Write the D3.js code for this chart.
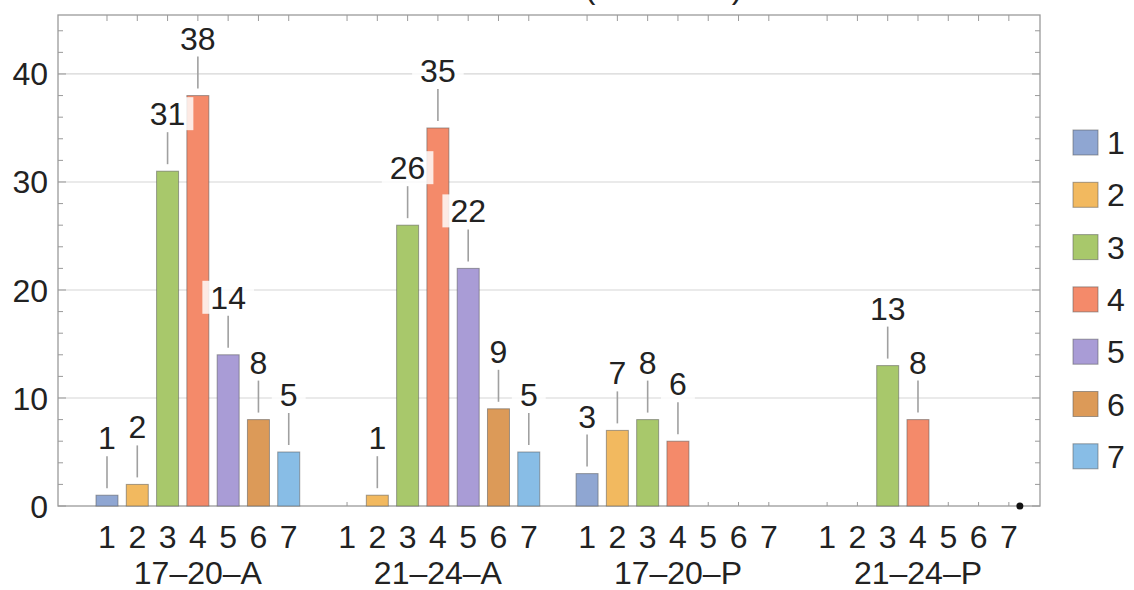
<!DOCTYPE html>
<html>
<head>
<meta charset="utf-8">
<script src="https://cdn.jsdelivr.net/npm/d3@7"></script>
<style>
  html, body { margin: 0; padding: 0; background: #fff; }
  svg { display: block; font-family: "Liberation Sans", Arial, sans-serif; }
</style>
</head>
<body>
<svg id="chart" width="1134" height="590"></svg>
<script>
// ---- data ----
const groups = ["17\u201320\u2013A", "21\u201324\u2013A", "17\u201320\u2013P", "21\u201324\u2013P"];
const categories = ["1", "2", "3", "4", "5", "6", "7"];
const values_17_20_A = [1, 2, 31, 38, 14, 8, 5];
const values_21_24_A = [0, 1, 26, 35, 22, 9, 5];
const values_17_20_P = [3, 7, 8, 6, 0, 0, 0];
const values_21_24_P = [0, 0, 13, 8, 0, 0, 0];
const yTicks = [0, 10, 20, 30, 40];
const colors = ["#8fa6d2", "#f2b95f", "#a8c86b", "#f48a6a", "#a99cd6", "#dc9a58", "#88bde6"];

const seriesByGroup = [values_17_20_A, values_21_24_A, values_17_20_P, values_21_24_P];
const rows = [];
groups.forEach((g, gi) => categories.forEach((c, ci) => rows.push({ group: g, cat: c, ci, value: seriesByGroup[gi][ci] })));

// ---- layout ----
const svg = d3.select("#chart");
const frame = { left: 58, right: 1040, top: 15, bottom: 506 };

const y = d3.scaleLinear().domain([0, 45.46]).range([frame.bottom, frame.top]);
const xOuter = d3.scaleBand().domain(groups).range([91.85, 1024]).paddingInner(0.1167).paddingOuter(0);
const xInner = d3.scaleBand().domain(categories).range([0, xOuter.bandwidth()]).paddingInner(0.274).paddingOuter(0.137);
const color = d3.scaleOrdinal().domain(categories).range(colors);
const cx = d => xOuter(d.group) + xInner(d.cat) + xInner.bandwidth() / 2;

const FS = 32;

// gridlines
svg.append("g").selectAll("line").data(yTicks.filter(t => t > 0)).join("line")
  .attr("x1", frame.left).attr("x2", frame.right)
  .attr("y1", d => y(d)).attr("y2", d => y(d))
  .attr("stroke", "#d6d6d6").attr("stroke-width", 1.2);

// frame
svg.append("rect")
  .attr("x", frame.left).attr("y", frame.top)
  .attr("width", frame.right - frame.left).attr("height", frame.bottom - frame.top)
  .attr("fill", "none").attr("stroke", "#9a9a9a").attr("stroke-width", 1.3);

// y ticks (left inward, right inward)
const minor = d3.range(0, 46, 2);
const tickG = svg.append("g").attr("stroke", "#9a9a9a").attr("stroke-width", 1);
tickG.selectAll(".yl").data(minor).join("line")
  .attr("x1", frame.left).attr("x2", d => frame.left + (d % 10 === 0 ? 8 : 5))
  .attr("y1", d => y(d)).attr("y2", d => y(d));
tickG.selectAll(".yr").data(minor).join("line")
  .attr("x1", frame.right).attr("x2", d => frame.right - (d % 10 === 0 ? 8 : 5))
  .attr("y1", d => y(d)).attr("y2", d => y(d));
// x ticks at bar centers (bottom & top)
tickG.selectAll(".xb").data(rows).join("line")
  .attr("x1", cx).attr("x2", cx)
  .attr("y1", frame.bottom).attr("y2", frame.bottom - 4);
tickG.selectAll(".xt").data(rows).join("line")
  .attr("x1", cx).attr("x2", cx)
  .attr("y1", frame.top).attr("y2", frame.top + 6);

// y tick labels
svg.append("g").selectAll("text").data(yTicks).join("text")
  .attr("x", 48).attr("y", d => y(d)).attr("dy", "0.36em")
  .attr("text-anchor", "end").attr("font-size", FS).attr("fill", "#222")
  .text(d => d);

// bars
svg.append("g").selectAll("rect").data(rows).join("rect")
  .attr("x", d => xOuter(d.group) + xInner(d.cat))
  .attr("width", xInner.bandwidth())
  .attr("y", d => y(d.value))
  .attr("height", d => y(0) - y(d.value))
  .attr("fill", d => color(d.cat))
  .attr("stroke", "#5a5a5a").attr("stroke-opacity", 0.55).attr("stroke-width", 1);

// callouts
const labeled = rows.filter(d => d.value > 0);
const lab = svg.append("g");
labeled.forEach(d => {
  const top = y(d.value);
  const x = cx(d);
  const txt = String(d.value);
  const w = txt.length * FS * 0.556;
  lab.append("rect")
    .attr("x", x - w / 2 - 8).attr("y", top - 46 - 28)
    .attr("width", w + 16).attr("height", 33)
    .attr("fill", "#fff").attr("fill-opacity", 0.82);
  lab.append("line")
    .attr("x1", x).attr("x2", x)
    .attr("y1", top - 7).attr("y2", top - 39)
    .attr("stroke", "#a0a0a0").attr("stroke-width", 1.6);
  lab.append("text")
    .attr("x", x).attr("y", top - 46)
    .attr("text-anchor", "middle").attr("font-size", FS).attr("fill", "#222")
    .text(txt);
});

// x category labels
svg.append("g").selectAll("text").data(rows).join("text")
  .attr("x", cx).attr("y", 548)
  .attr("text-anchor", "middle").attr("font-size", FS).attr("fill", "#222")
  .text(d => d.cat);

// group labels
svg.append("g").selectAll("text").data(groups).join("text")
  .attr("x", d => xOuter(d) + xOuter.bandwidth() / 2).attr("y", 584)
  .attr("text-anchor", "middle").attr("font-size", FS).attr("fill", "#222")
  .text(d => d);

// end dot
const lastGroup = groups[groups.length - 1];
const lastCat = categories[categories.length - 1];
svg.append("circle")
  .attr("cx", xOuter(lastGroup) + xInner(lastCat) + xInner.bandwidth())
  .attr("cy", y(0)).attr("r", 3.5).attr("fill", "#111");

// clipped title (only parentheses bottoms visible)
svg.append("text").attr("x", 590).attr("y", -2).attr("text-anchor", "middle")
  .attr("font-size", FS).attr("fill", "#222").text("(");
svg.append("text").attr("x", 737).attr("y", -2).attr("text-anchor", "middle")
  .attr("font-size", FS).attr("fill", "#222").text(")");

// legend
const leg = svg.append("g");
categories.forEach((c, i) => {
  const yy = 130 + i * 52.3;
  leg.append("rect").attr("x", 1073).attr("y", yy).attr("width", 25).attr("height", 25)
    .attr("fill", color(c)).attr("stroke", "#5a5a5a").attr("stroke-opacity", 0.55).attr("stroke-width", 1);
  leg.append("text").attr("x", 1107).attr("y", yy + 12.5).attr("dy", "0.36em")
    .attr("font-size", FS).attr("fill", "#222").text(c);
});
</script>
</body>
</html>
